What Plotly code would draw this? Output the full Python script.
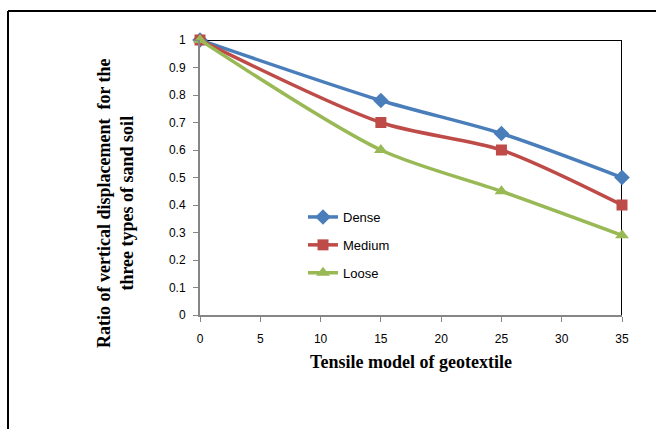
import plotly.graph_objects as go

x_vals = [0, 15, 25, 35]
dense = [1.0, 0.78, 0.66, 0.50]
medium = [1.0, 0.70, 0.60, 0.40]
loose = [1.0, 0.60, 0.45, 0.29]

series = [
    ("Dense", dense, "#4a7ebb", "diamond", 12),
    ("Medium", medium, "#be4b48", "square", 11),
    ("Loose", loose, "#98b954", "triangle-up", 12),
]

y_title = "<b>Ratio of vertical displacement  for the<br>three types of sand soil</b>"
x_title = "<b>Tensile model of geotextile</b>"

fig = go.Figure()
for i, (name, vals, color, sym, sz) in enumerate(series):
    fig.add_trace(go.Scatter(
        x=x_vals, y=vals, name=name, mode="lines+markers",
        line=dict(color=color, width=3.5, shape="spline", smoothing=0.8),
        marker=dict(symbol=sym, size=sz, color=color),
        legendgroup=f"g{i}", cliponaxis=False,
    ))

L, R, T, B = 200, 34, 40, 114
W, H = 656, 429
pw, ph = W - L - R, H - T - B

def px_x(p):
    return (p - L) / pw

def px_y(p):
    return (H - B - p) / ph

fig.update_layout(
    width=W, height=H,
    margin=dict(l=L, r=R, t=T, b=B),
    paper_bgcolor="white", plot_bgcolor="white",
    font=dict(family="Liberation Sans", size=12, color="black"),
    legend=dict(x=px_x(303), y=px_y(202), xanchor="left", yanchor="top",
                bgcolor="rgba(0,0,0,0)", tracegroupgap=8,
                font=dict(family="Liberation Sans", size=13)),
    xaxis=dict(range=[0, 35], dtick=5, tick0=0, showgrid=False, zeroline=False,
               showline=True, linecolor="#868686", linewidth=2,
               ticks="outside", ticklen=5, tickcolor="#868686", tickwidth=1,
               ticklabelstandoff=7,
               title=dict(text=x_title,
                          font=dict(family="Liberation Serif", size=18), standoff=10)),
    yaxis=dict(range=[0, 1], dtick=0.1, tick0=0, showgrid=False, zeroline=False,
               showline=True, linecolor="#868686", linewidth=2,
               ticks="outside", ticklen=5, tickcolor="#868686", tickwidth=1,
               ticklabelstandoff=5),
    annotations=[
        dict(text=y_title, xref="paper", yref="paper", x=px_x(115), y=px_y(203),
             xanchor="center", yanchor="middle", textangle=-90, showarrow=False,
             font=dict(family="Liberation Serif", size=18, color="black")),
    ],
    shapes=[
        dict(type="line", xref="x", yref="y", x0=0, y0=1, x1=35, y1=1,
             line=dict(color="black", width=2), layer="below"),
        dict(type="line", xref="x", yref="y", x0=35, y0=0, x1=35, y1=1,
             line=dict(color="black", width=2), layer="below"),
        dict(type="line", xref="paper", yref="paper", x0=px_x(8), y0=px_y(440),
             x1=px_x(8), y1=px_y(11), line=dict(color="black", width=2)),
        dict(type="line", xref="paper", yref="paper", x0=px_x(8), y0=px_y(11),
             x1=px_x(670), y1=px_y(11), line=dict(color="black", width=2)),
    ],
)

fig.write_html("out.html")
